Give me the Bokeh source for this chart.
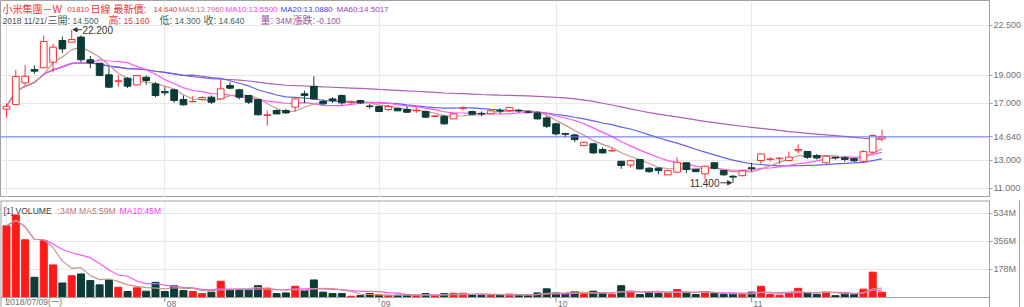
import numpy as np
from bokeh.plotting import figure
from bokeh.layouts import column
from bokeh.models import (ColumnDataSource, FixedTicker, NumeralTickFormatter, Span, Label,
                          Arrow, NormalHead, Range1d, Grid, LinearAxis)
from bokeh.embed import file_html
from bokeh.resources import INLINE

# ---------------- data ----------------
opens = [16.60, 16.92, 18.45, 19.39, 19.51, 19.91, 21.44, 21.32, 21.68, 20.08,
         19.84, 19.02, 18.55, 18.78, 18.31, 18.85, 18.38, 17.84, 17.96, 17.28,
         17.12, 17.28, 17.44, 17.32, 18.26, 17.96, 17.56, 17.28, 16.15, 16.50,
         16.50, 16.74, 17.68, 18.20, 17.14, 17.32, 17.56, 17.08, 17.20, 16.82,
         16.78, 16.57, 16.64, 16.57, 16.48, 16.43, 16.08, 16.10, 15.91, 16.64,
         16.43, 16.30, 16.28, 16.50, 16.50, 16.52, 16.40, 16.33, 15.98, 15.56,
         14.88, 14.78, 14.03, 14.15, 13.75, 13.65, 12.92, 12.66, 13.04, 12.43,
         12.43, 11.96, 12.15, 12.81, 12.34, 12.03, 12.81, 12.26, 11.86, 11.90,
         12.46, 12.97, 13.05, 13.10, 12.97, 13.66, 13.61, 13.32, 12.81, 13.20,
         13.16, 13.09, 12.92, 13.56, 14.50]
highs = [17.00, 19.37, 19.72, 19.68, 21.79, 21.20, 21.72, 22.20, 21.79, 20.34,
         19.86, 19.56, 19.00, 18.85, 19.02, 18.97, 18.50, 18.15, 18.03, 17.56,
         17.51, 17.51, 17.56, 18.62, 18.50, 18.03, 17.60, 17.32, 16.50, 16.57,
         16.62, 17.37, 17.91, 18.92, 17.28, 17.44, 17.63, 17.21, 17.25, 16.97,
         16.85, 16.90, 16.68, 16.80, 16.73, 16.50, 16.15, 16.19, 16.33, 16.80,
         16.50, 16.43, 16.52, 16.66, 16.76, 16.62, 16.50, 16.43, 16.10, 15.63,
         14.92, 14.85, 14.31, 14.22, 13.91, 13.85, 12.92, 13.04, 13.09, 12.50,
         12.50, 12.34, 13.21, 12.85, 12.38, 12.62, 12.85, 12.30, 11.95, 12.30,
         12.81, 13.49, 13.21, 13.21, 13.60, 14.12, 13.61, 13.44, 13.28, 13.23,
         13.25, 13.14, 13.70, 14.80, 15.16]
lows = [16.00, 16.90, 18.26, 19.09, 19.50, 19.20, 20.57, 21.30, 19.91, 19.49,
        18.93, 18.08, 18.17, 18.08, 18.26, 18.31, 17.44, 17.56, 17.04, 16.85,
        17.09, 17.18, 16.97, 17.28, 17.98, 17.28, 16.97, 16.15, 15.44, 16.24,
        16.26, 16.43, 17.04, 17.28, 16.90, 17.04, 16.90, 16.97, 16.97, 16.62,
        16.38, 16.48, 16.45, 16.33, 16.33, 15.98, 16.03, 15.49, 15.91, 16.52,
        16.19, 16.10, 16.24, 16.29, 16.43, 16.33, 16.30, 15.86, 15.25, 14.74,
        14.62, 14.26, 13.98, 13.44, 13.46, 13.61, 12.38, 12.50, 12.34, 12.10,
        12.03, 11.96, 12.15, 12.10, 12.15, 11.63, 12.34, 11.90, 11.40, 11.86,
        12.20, 12.73, 12.90, 12.73, 12.97, 13.50, 13.09, 13.04, 12.73, 13.04,
        12.90, 12.85, 12.85, 13.45, 14.30]
closes = [16.80, 18.90, 18.92, 19.28, 21.37, 20.97, 20.85, 21.51, 20.08, 19.86,
          18.97, 18.15, 18.60, 18.22, 18.97, 18.62, 17.56, 17.75, 17.21, 16.90,
          17.14, 17.42, 17.09, 18.03, 18.08, 17.44, 17.09, 16.20, 16.20, 16.26,
          16.33, 17.32, 17.56, 17.32, 16.97, 17.20, 17.04, 17.10, 17.04, 16.78,
          16.43, 16.78, 16.48, 16.38, 16.52, 16.03, 16.12, 15.56, 16.26, 16.68,
          16.24, 16.26, 16.48, 16.46, 16.71, 16.48, 16.38, 15.91, 15.39, 14.85,
          14.82, 14.45, 14.26, 13.51, 13.51, 13.68, 12.62, 12.96, 12.38, 12.19,
          12.26, 12.26, 12.85, 12.34, 12.19, 12.57, 12.42, 11.96, 11.80, 12.24,
          12.40, 13.44, 13.08, 13.14, 13.21, 13.75, 13.20, 13.15, 13.27, 13.15,
          13.05, 12.95, 13.60, 14.74, 14.64]
volumes_m = [453, 522, 365, 128, 359, 206, 92, 138, 149, 107,
             80, 111, 65, 38, 61, 40, 96, 38, 74, 44,
             38, 25, 34, 103, 48, 48, 48, 75, 59, 25,
             29, 71, 44, 111, 34, 25, 25, 8, 12, 25,
             16, 12, 14, 19, 12, 25, 12, 25, 27, 27,
             19, 15, 15, 15, 21, 15, 12, 29, 55, 29,
             25, 38, 19, 40, 27, 21, 75, 40, 19, 34,
             25, 34, 50, 29, 19, 38, 25, 19, 21, 19,
             34, 71, 19, 15, 29, 58, 30, 21, 34, 12,
             29, 19, 53, 160, 34]

month_ticks = [0, 17, 40, 59, 80]
month_labels = ["2018/07/09(一)", "08", "09", "10", "11"]
price_ticks = [11, 13, 17, 19, 22.5]
vol_ticks = [178, 356, 534]
vol_tick_labels = ["178M", "356M", "534M"]

# header pieces: (text, left x in px, colour, font size)
RED, TEAL, PURP = "#ee3333", "#336b6b", "#a050a0"
header1 = [("小米集團－W", 2, RED, "10px"), ("01810", 67, RED, "7.8px"),
           ("日線", 90, RED, "10px"), ("最新價:", 113, RED, "10px"),
           ("14.640", 153, RED, "7.8px"),
           ("MA5:13.7960", 178, "#c27272", "7.6px"),
           ("MA10:13.5500", 225, "#ff33ff", "8px"),
           ("MA20:13.0880", 280, "#3c3cff", "8px"),
           ("MA60:14.5017", 336, "#a040b0", "8px")]
header2 = [("2018 11/21/", 2, "#505050", "8.5px"), ("三", 47, "#505050", "10px"),
           ("開:", 57, TEAL, "10px"), ("14.500", 72, TEAL, "8.5px"),
           ("高:", 108, RED, "10px"), ("15.160", 123, RED, "8.5px"),
           ("低:", 159, TEAL, "10px"), ("14.300", 174, TEAL, "8.5px"),
           ("收:", 203, TEAL, "10px"), ("14.640", 218, TEAL, "8.5px"),
           ("量:", 260, PURP, "10px"), ("34M", 275, PURP, "8.5px"),
           ("漲跌:", 292, PURP, "10px"), ("-0.100", 316, PURP, "8.5px")]
vol_header = [("[1] VOLUME", 3, "#404040"), (":34M MA5:59M", 57, "#c27272"),
              ("MA10:45M", 119, "#ff33ff")]

# ---------------- derived ----------------
def moving_avg(vals, k):
    out = []
    for i in range(len(vals)):
        w = vals[max(0, i - k + 1): i + 1]
        out.append(sum(w) / len(w))
    return out

n = len(closes)
idx = list(range(n))
UP = "#ff3030"
DOWN = "#0d3c37"
is_up = [c >= o for o, c in zip(opens, closes)]
src = ColumnDataSource(dict(
    x=idx, o=opens, h=highs, l=lows, c=closes,
    top=[max(o, c) for o, c in zip(opens, closes)],
    bot=[min(o, c) for o, c in zip(opens, closes)],
    lc=[UP if u else DOWN for u in is_up],
    fc=["#ffffff" if u else DOWN for u in is_up],
    vol=volumes_m,
    vc=["#ff1a1a" if u else DOWN for u in is_up],
))

FONT_STR = "'Liberation Sans', 'Noto Sans CJK TC', sans-serif"
GRID = "#e8e8e8"
EDGE = "#a0a0a0"

x_range = Range1d(-0.643, 105.54)

# ---------------- price panel ----------------
p = figure(width=1024, height=197, x_range=x_range, y_range=Range1d(10.362, 24.264),
           y_axis_location="right", x_axis_location=None, toolbar_location=None,
           output_backend="svg", min_border_left=0, min_border_right=33,
           min_border_top=0, min_border_bottom=0, outline_line_color=EDGE)
p.grid.visible = False
p.add_layout(Grid(dimension=0, ticker=FixedTicker(ticks=month_ticks), grid_line_color=GRID))
p.add_layout(Grid(dimension=1, ticker=FixedTicker(ticks=price_ticks), grid_line_color=GRID))

ax = p.yaxis[0]
ax.ticker = FixedTicker(ticks=price_ticks + [closes[-1]])
ax.formatter = NumeralTickFormatter(format="0.000")
ax.major_label_text_font_size = "9px"
ax.major_label_text_font = "Liberation Sans"
ax.major_label_text_color = "#707070"
ax.major_tick_out = 3
ax.major_tick_in = 0
ax.minor_tick_out = 0
ax.minor_tick_in = 0
ax.major_label_standoff = 1
ax.axis_line_color = EDGE
ax.major_tick_line_color = EDGE

p.add_layout(LinearAxis(ticker=FixedTicker(ticks=[]), major_tick_out=0, major_tick_in=0,
                        minor_tick_out=0, minor_tick_in=0, axis_line_color=EDGE,
                        major_label_standoff=0), "right")

ma_specs = [(5, "#c8958e"), (10, "#ff55ff"), (20, "#6262f2"), (60, "#aa62b4")]
for k, col in reversed(ma_specs):
    p.line(idx, moving_avg(closes, k), line_color=col, line_width=1.2)

p.add_layout(Span(location=closes[-1], dimension="width", line_color="#6b6bea", line_width=1))

p.segment(x0="x", y0="l", x1="x", y1="h", line_color="lc", line_width=1, source=src)
p.vbar(x="x", width=0.72, top="top", bottom="bot", fill_color="fc", line_color="lc",
       line_width=1, source=src)

# max / min annotations
hi_i = int(np.argmax(highs))
lo_i = int(np.argmin(lows))
p.add_layout(Arrow(end=NormalHead(size=4, fill_color="#333333", line_color="#333333"),
                   x_start=hi_i + 1.1, y_start=highs[hi_i], x_end=hi_i + 0.15, y_end=highs[hi_i],
                   line_color="#333333", line_width=1))
p.add_layout(Label(x=hi_i + 1.15, y=highs[hi_i], text=f"{highs[hi_i]:.3f}", text_font=FONT_STR,
                   text_font_size="10px", text_color="#333333", text_baseline="middle"))
p.add_layout(Arrow(end=NormalHead(size=4, fill_color="#333333", line_color="#333333"),
                   x_start=lo_i - 1.35, y_start=lows[lo_i], x_end=lo_i - 0.15, y_end=lows[lo_i],
                   line_color="#333333", line_width=1))
p.add_layout(Label(x=lo_i - 1.45, y=lows[lo_i], text=f"{lows[lo_i]:.3f}", text_font=FONT_STR,
                   text_font_size="10px", text_color="#333333", text_baseline="middle",
                   text_align="right"))

for txt, x, col, fs in header1:
    p.add_layout(Label(x=x, y=188, x_units="screen", y_units="screen", text=txt,
                       text_font=FONT_STR, text_font_size=fs, text_color=col,
                       text_baseline="alphabetic"))
for txt, x, col, fs in header2:
    p.add_layout(Label(x=x, y=177, x_units="screen", y_units="screen", text=txt,
                       text_font=FONT_STR, text_font_size=fs, text_color=col,
                       text_baseline="alphabetic"))

# ---------------- volume panel (frame reaches the bottom so the date row fits) ----------------
VOL_TOP = 613
VOL_BOTTOM = -63
v = figure(width=1024, height=110, x_range=x_range, y_range=Range1d(VOL_BOTTOM, VOL_TOP),
           y_axis_location="right", x_axis_location=None, toolbar_location=None,
           output_backend="svg", min_border_left=0, min_border_right=33, min_border_top=3,
           min_border_bottom=0, outline_line_color=None)
v.grid.visible = False
v.add_layout(Grid(dimension=1, ticker=FixedTicker(ticks=vol_ticks), grid_line_color=GRID))

vax = v.yaxis[0]
vax.ticker = FixedTicker(ticks=vol_ticks)
vax.major_label_overrides = {t: s for t, s in zip(vol_ticks, vol_tick_labels)}
vax.major_label_text_font_size = "9px"
vax.major_label_text_font = "Liberation Sans"
vax.major_label_text_color = "#707070"
vax.major_tick_out = 3
vax.major_tick_in = 0
vax.minor_tick_out = 0
vax.minor_tick_in = 0
vax.major_label_standoff = 1
vax.axis_line_color = EDGE
vax.major_tick_line_color = EDGE
v.add_layout(LinearAxis(ticker=FixedTicker(ticks=[]), major_tick_out=0, major_tick_in=0,
                        minor_tick_out=0, minor_tick_in=0, axis_line_color=EDGE,
                        major_label_standoff=0), "right")

# month gridlines (down to the zero line) and small tick marks below it
v.segment(x0=month_ticks, y0=[0] * len(month_ticks), x1=month_ticks,
          y1=[VOL_TOP] * len(month_ticks), line_color=GRID, line_width=1)
v.segment(x0=month_ticks, y0=[0] * len(month_ticks), x1=month_ticks,
          y1=[-30] * len(month_ticks), line_color="#8a8a8a", line_width=1)

v.vbar(x="x", width=0.75, top="vol", bottom=0, fill_color="vc", line_color="vc", source=src)
v.line(idx, moving_avg(volumes_m, 10), line_color="#ff55ff", line_width=1.2)
v.line(idx, moving_avg(volumes_m, 5), line_color="#c8958e", line_width=1.2)

# panel border lines
v.add_layout(Span(location=0, dimension="width", line_color=EDGE, line_width=1))
v.add_layout(Span(location=VOL_TOP, dimension="width", line_color=EDGE, line_width=2))
v.add_layout(Span(location=x_range.start, dimension="height", line_color=EDGE, line_width=2))

# month labels, left-aligned just right of the month tick, kept inside the window
for t, s in zip(month_ticks, month_labels):
    v.add_layout(Label(x=t, y=1, y_units="screen", x_offset=(-1 if t == 0 else 2),
                       text=s, text_font=FONT_STR, text_font_size="8.5px",
                       text_color="#707070", text_baseline="bottom", text_align="left"))

for txt, x, col in vol_header:
    v.add_layout(Label(x=x, y=97, x_units="screen", y_units="screen", text=txt,
                       text_font=FONT_STR, text_font_size="8.6px", text_color=col,
                       text_baseline="alphabetic"))

layout = column(p, v, spacing=0)
open("out.html", "w").write(file_html(layout, INLINE))
